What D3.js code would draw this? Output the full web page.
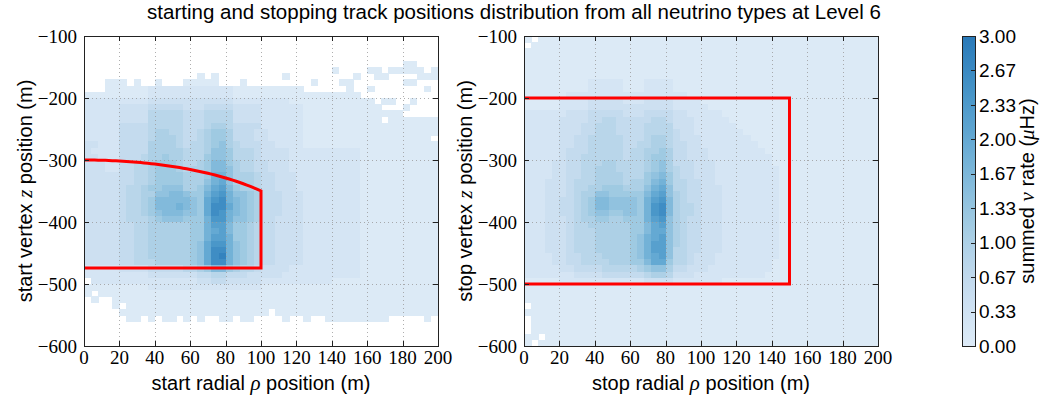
<!DOCTYPE html>
<html>
<head>
<meta charset="utf-8">
<script src="https://cdn.jsdelivr.net/npm/d3@7"></script>
<style>
  body { margin: 0; background: #fff; }
</style>
</head>
<body>
<svg id="chart" width="1046" height="400"></svg>
<script>
// ---- chart data ---------------------------------------------------------
const titleText = "starting and stopping track positions distribution from all neutrino types at Level 6";
const rhoTicks = [0, 20, 40, 60, 80, 100, 120, 140, 160, 180, 200];
const zTicks = [-100, -200, -300, -400, -500, -600];
const rateTicks = [0, 1/3, 2/3, 1, 4/3, 5/3, 2, 7/3, 8/3, 3];
const rateTickLabels = ["0.00", "0.33", "0.67", "1.00", "1.33", "1.67", "2.00", "2.33", "2.67", "3.00"];

// histogram binning: 50 bins of 4 m in rho, 50 bins of 10 m in z (top row = -100 m)
const rhoBinWidth = 4;
const zBinHeight = 10;
const zFirstEdge = -100;

// per-cell summed rate, coded: '.' = empty bin, '0' = tiny rate, each further symbol adds 0.2 uHz
const levelCodes = "0123456789ABCDEF";
const levelStep = 0.2;
const tinyRate = 0.02;

const startRates = [
  ".......... .......... .......... .......... ..........",
  ".......... .......... .......... .......... ..........",
  ".......... .......... .......... .......... ..........",
  ".......... .......... .......... .......... ..........",
  ".......... .......... .......... .......... .....00...",
  ".......... .......... .......... .....0.... 00.00000.0",
  ".......... ......0.0. ........0. ........0. .00....000",
  "...000.0.. 0...00000. ..0....... ..0...00.. .....00...",
  "...0000001 1111111111 1000000000 0......0.. 0.......0.",
  "0000000001 1111111111 1000000000 000000000. ..........",
  "1111111112 2222222222 2111111110 0000000000 0.00..0...",
  "11111 2222 33333 222 3333 2222 111111 00000000000 ... 0 ....",
  "11111 2222 44444 333 4444 2222 111111 00000000000000 .....",
  "11111 2222 44444 333 4444 2222 111111 00000000000 . 0000000",
  "11111 3333 44444 333 4 55 4 3333 111111 00000000 00000000000",
  "11111 3333 45544 334 5 66 5 3332 211111 00000000 00000000000",
  "11111 3333 45554 334 5 66 5 3332 211111 00000000 0000000000.",
  "22111 3333 55554 344 5 67 5 4333 221111 00000000 00000000000",
  "21111 3333 55555 444 5 77 6 4443 222211 11111111 00000000000",
  "22111 3334 55655 444 6 77 6 4443 222211 11111111 00000000000",
  "22211 3344 56665 445 6 88 6 5443 322211 11111111 00000000000",
  "22211 3344 56665 455 6 88 7 5443 322211 11111111 00000000000",
  "22222 3344 56666 555 6 99 7 5554 332221 11111111 00000000000",
  "22222 3344 56666 555 7 9A 7 5554 332221 11111111 00000000000",
  "22222 3445 66777 556 8 AB 8 6554 332221 11111111 00000000000",
  "22222 3445 57788 766 9 BC 9 7765 333222 11111111 00000000000",
  "22222 3445 68888 876 A CD 9 8765 333222 11111111 00000000000",
  "22222 3445 68889 876 A DD A 8765 333222 11111111 00000000000",
  "22222 3445 67888 776 A DC 9 8765 333222 11111111 00000000000",
  "22222 3444 56777 666 9 CC 9 7765 332222 11111111 00000000000",
  "22222 3344 55555 566 9 BB 8 6654 332222 11111111 00000000000",
  "22222 3344 55555 566 9 AB 8 6654 332222 11111111 00000000000",
  "22222 3344 55555 566 9 BB 9 6654 332222 11111111 00000000000",
  "22222 3344 55555 567 A CC 9 7654 332222 11111111 00000000000",
  "22222 3344 55555 567 A DD 9 7654 332222 11111111 00000000000",
  "22222 3344 55555 567 A DE 9 7654 332222 11111111 00000000000",
  "22222 3344 45555 567 A DD 9 7654 332222 11111111 00000000000",
  "11111 2222 33333 445 6 88 6 5443 222211 11111111 00000000000",
  "11111 1111 22222 223 3 44 3 3322 222111 11111111 00000000000",
  ".1111 1111 11111 112 2 33 2 2222 111111 11110000 00000000000",
  "00000 0000 11111 111 1 11 1 1111 000000 00000000 00000000000",
  "0.000 0000 00000 000 0 00 0 0000 000000 00000000 00000000000",
  ".0..0 0000 00000 000 0 00 0 0000 000000 00000000 00000000000",
  "....0 .000 00000 000 0 00 0 0000 000000 00000000 00000000000",
  "..... 0000 00000 000 0 00 0 0000 0.0000 00000000 00000000000",
  "......00.0 .00.0.0..0 0.00....0. .0..000000 000.....0.",
  ".......... .......... .......... .......... ..........",
  ".......... .......... .......... .......... ..........",
  ".......... .......... .......... .......... ..........",
  ".......... .......... .......... .......... .........."
];

const stopRates = [
  "0.000 0000 00000 000 0 00 0 0000 000000 00000000 00000000000",
  ".0000 0000 00000 000 0 00 0 0000 000000 00000000 00000000000",
  "00000 0000 00000 000 0 00 0 0000 000000 00000000 00000000000",
  "00000 0000 00000 000 0 00 0 0000 000000 00000000 00000000000",
  "00000 0000 00000 000 0 00 0 0000 000000 00000000 00000000000",
  "00000 0000 00000 000 0 00 0 0000 000000 00000000 00000000000",
  "00000 0000 00000 000 0 00 0 0000 000000 00000000 00000000000",
  "00000 0000 11111 000 1 11 1 0000 000000 00000000 00000000000",
  "00000 0000 11111 000 1 11 1 0000 000000 00000000 00000000000",
  "00000 0111 11111 111 1 11 1 1100 000000 00000000 00000000000",
  "00000 1111 22222 111 2 22 2 1111 000000 00000000 00000000000",
  "00000 1111 22222 222 2 22 2 1111 100000 00000000 00000000000",
  "11111 1222 33333 222 3 33 3 2211 111000 00000000 00000000000",
  "11111 2222 33443 333 3 44 3 2221 111100 00000000 00000000000",
  "11111 2223 34443 333 4 44 4 2221 111110 00000000 00000000000",
  "11111 2223 34443 333 4 44 4 3221 111111 00000000 00000000000",
  "11111 2233 44444 333 4 55 4 3222 111111 10000000 00000000000",
  "11111 2233 44444 334 4 55 4 3322 111111 11000000 00000000000",
  "11111 2333 44444 344 5 56 5 3322 211111 11100000 00000000000",
  "11111 2334 44444 344 5 66 5 3322 211111 11110000 00000000000",
  "11112 2334 44554 444 5 67 5 3332 221111 11110000 00000000000",
  "11112 2334 45554 444 5 67 5 4332 221111 11111000 00000000000",
  "11112 2334 45555 444 6 78 6 4332 221111 11111000 00000000000",
  "11122 2344 45555 455 6 89 6 4433 221111 11111000 00000000000",
  "11122 2344 55666 555 7 9A 7 4433 222111 11111000 00000000000",
  "11122 2345 57766 666 8 AB 7 5433 222111 11111000 00000000000",
  "11122 3345 68877 776 9 BC 8 5433 222111 11111000 00000000000",
  "11122 3345 68877 776 9 CD 8 5443 222111 11111000 00000000000",
  "11122 3345 67766 776 9 CD 8 5443 222111 11111000 00000000000",
  "11122 2345 56655 666 9 BC 7 5433 222111 11111000 00000000000",
  "11122 2344 55555 566 8 AB 7 5433 222111 11111000 00000000000",
  "11122 2344 45555 566 8 AA 7 5433 222111 11111000 00000000000",
  "11122 2344 45555 567 9 AB 7 5433 222111 11111000 00000000000",
  "11122 2344 45555 567 9 BB 7 5433 222111 11111000 00000000000",
  "11122 2344 45555 567 9 BB 7 4433 222111 11111000 00000000000",
  "11112 2334 44555 567 9 AB 7 4432 221111 11111000 00000000000",
  "11112 2334 44455 566 8 AA 6 4432 221111 11110000 00000000000",
  "11111 2233 33444 445 6 77 5 3322 211111 11110000 00000000000",
  "11111 1122 22333 333 4 55 4 2221 111111 11100000 00000000000",
  "00000 1111 11111 111 2 22 2 1111 111000 00000000 00000000000",
  "00000 0000 00000 000 0 00 0 0000 000000 00000000 00000000000",
  "00000 0000 00000 000 0 00 0 0000 000000 00000000 00000000000",
  "00000 0000 00000 000 0 00 0 0000 000000 00000000 00000000000",
  ".0000 0000 00000 000 0 00 0 0000 000000 00000000 00000000000",
  "00000 0000 00000 000 0 00 0 0000 000000 00000000 00000000000",
  ".0000 0000 00000 000 0 00 0 0000 000000 00000000 00000000000",
  ".0000 0000 00000 000 0 00 0 0000 000000 00000000 00000000000",
  ".0000 0000 00000 000 0 00 0 0000 000000 00000000 00000000000",
  "00.00 0000 00000 000 0 00 0 0000 000000 00000000 00000000000",
  "0.000 0000 00000 000 0 00 0 0000 000000 00000000 00000000000"
];

// selection outlines (metres)
const startCapCentreZ = -425, startCapRadius = 125, startMaxRho = 100, startBottomZ = -474;
const stopMaxRho = 150, stopTopZ = -200, stopBottomZ = -500;

// ---- layout -------------------------------------------------------------
const sans = "'Liberation Sans', Arial, Helvetica, sans-serif";
const serif = "'Liberation Serif', 'Times New Roman', serif";
const plotTop = 36, plotW = 354, plotH = 310;
const tickFont = 19, labelFont = 20, titleFont = 20.5;
const svg = d3.select("#chart");

const rateToT = d3.scaleLinear().domain([0, 3]).range([0.13, 0.72]).clamp(true);
const color = v => d3.interpolateBlues(rateToT(v));

function decode(rows) {
  const out = [];
  rows.forEach((row, r) => {
    const s = row.replace(/ /g, "");
    Array.from(s).forEach((ch, c) => {
      if (ch === ".") return;
      const lv = levelCodes.indexOf(ch);
      out.push({ r, c, v: lv === 0 ? tinyRate : lv * levelStep });
    });
  });
  return out;
}

function fmtNeg(v) { return v < 0 ? "\u2212" + Math.abs(v) : String(v); }

function drawPanel(left, rows, word, outline) {
  const x = d3.scaleLinear().domain([0, 200]).range([left, left + plotW]);
  const y = d3.scaleLinear().domain([-100, -600]).range([plotTop, plotTop + plotH]);
  const g = svg.append("g");
  const clipId = "clip-" + word;
  svg.append("clipPath").attr("id", clipId)
    .append("rect").attr("x", left).attr("y", plotTop).attr("width", plotW).attr("height", plotH);

  const cw = x(rhoBinWidth) - x(0);
  const ch = y(zFirstEdge - zBinHeight) - y(zFirstEdge);
  g.append("g").attr("clip-path", `url(#${clipId})`).attr("shape-rendering", "crispEdges")
    .selectAll("rect").data(decode(rows)).join("rect")
    .attr("x", d => x(d.c * rhoBinWidth))
    .attr("y", d => y(zFirstEdge - d.r * zBinHeight))
    .attr("width", cw + 0.5)
    .attr("height", ch + 0.5)
    .attr("fill", d => color(d.v));

  // dotted grid
  const grid = g.append("g").attr("stroke", "#9a9a9a").attr("stroke-width", 1)
    .attr("stroke-dasharray", "1,3").attr("opacity", 0.8);
  rhoTicks.slice(1, -1).forEach(t => grid.append("line")
    .attr("x1", Math.round(x(t)) + 0.5).attr("x2", Math.round(x(t)) + 0.5)
    .attr("y1", plotTop).attr("y2", plotTop + plotH));
  zTicks.slice(1, -1).forEach(t => grid.append("line")
    .attr("y1", Math.round(y(t)) + 0.5).attr("y2", Math.round(y(t)) + 0.5)
    .attr("x1", left).attr("x2", left + plotW));

  // selection outline
  g.append("path").attr("clip-path", `url(#${clipId})`)
    .attr("d", outline(x, y)).attr("fill", "none")
    .attr("stroke", "#ff0000").attr("stroke-width", 3).attr("stroke-linejoin", "miter");

  // frame and inward ticks on all sides
  g.append("rect").attr("x", left + 0.5).attr("y", plotTop + 0.5)
    .attr("width", plotW).attr("height", plotH)
    .attr("fill", "none").attr("stroke", "#222").attr("stroke-width", 1);
  const tk = g.append("g").attr("stroke", "#222").attr("stroke-width", 1);
  rhoTicks.forEach(t => {
    const px = Math.round(x(t)) + 0.5;
    tk.append("line").attr("x1", px).attr("x2", px).attr("y1", plotTop + plotH).attr("y2", plotTop + plotH - 5);
    tk.append("line").attr("x1", px).attr("x2", px).attr("y1", plotTop).attr("y2", plotTop + 5);
  });
  zTicks.forEach(t => {
    const py = Math.round(y(t)) + 0.5;
    tk.append("line").attr("y1", py).attr("y2", py).attr("x1", left).attr("x2", left + 5);
    tk.append("line").attr("y1", py).attr("y2", py).attr("x1", left + plotW).attr("x2", left + plotW - 5);
  });

  // tick labels
  g.selectAll("text.xt").data(rhoTicks).join("text").attr("class", "xt")
    .attr("x", d => x(d)).attr("y", plotTop + plotH + 18)
    .attr("text-anchor", "middle").attr("font-family", serif).attr("font-size", tickFont)
    .text(d => d);
  g.selectAll("text.yt").data(zTicks).join("text").attr("class", "yt")
    .attr("x", left - 7).attr("y", d => y(d)).attr("dy", "0.35em")
    .attr("text-anchor", "end").attr("font-family", serif).attr("font-size", tickFont)
    .text(fmtNeg);

  // axis titles
  const xl = g.append("text").attr("x", left + plotW / 2).attr("y", 390)
    .attr("text-anchor", "middle").attr("font-family", sans).attr("font-size", labelFont);
  xl.append("tspan").text(word + " radial ");
  xl.append("tspan").attr("font-family", serif).attr("font-style", "italic").attr("font-size", labelFont + 1).text("\u03c1");
  xl.append("tspan").text(" position (m)");

  const yl = g.append("text").attr("transform", `translate(${left - 52},${plotTop + plotH / 2}) rotate(-90)`)
    .attr("text-anchor", "middle").attr("font-family", sans).attr("font-size", labelFont);
  yl.append("tspan").text(word + " vertex ");
  yl.append("tspan").attr("font-family", serif).attr("font-style", "italic").attr("font-size", labelFont + 1).text("z");
  yl.append("tspan").text(" position (m)");
}

// start panel: spherical cap on top, flat bottom, vertical side at rho = 100 m
drawPanel(84, startRates, "start", (x, y) => {
  const capPts = d3.range(0, startMaxRho + 0.01, 2).map(r =>
    [x(r), y(startCapCentreZ + Math.sqrt(startCapRadius * startCapRadius - r * r))]);
  return d3.line()(capPts.concat([[x(startMaxRho), y(startBottomZ)], [x(0), y(startBottomZ)]]));
});

// stop panel: box
drawPanel(524, stopRates, "stop", (x, y) =>
  d3.line()([[x(0), y(stopTopZ)], [x(stopMaxRho), y(stopTopZ)], [x(stopMaxRho), y(stopBottomZ)], [x(0), y(stopBottomZ)]]));

// ---- colour bar ---------------------------------------------------------
const cbX = 962, cbW = 13;
const cbY = d3.scaleLinear().domain([0, 3]).range([plotTop + plotH, plotTop]);
const grad = svg.append("defs").append("linearGradient").attr("id", "rateGrad")
  .attr("x1", 0).attr("y1", 1).attr("x2", 0).attr("y2", 0);
d3.range(0, 1.0001, 0.05).forEach(f => grad.append("stop")
  .attr("offset", f).attr("stop-color", color(f * 3)));
svg.append("rect").attr("x", cbX).attr("y", plotTop).attr("width", cbW).attr("height", plotH)
  .attr("fill", "url(#rateGrad)");
svg.append("rect").attr("x", cbX + 0.5).attr("y", plotTop + 0.5).attr("width", cbW).attr("height", plotH)
  .attr("fill", "none").attr("stroke", "#222");
rateTicks.forEach((t, i) => {
  const py = Math.round(cbY(t)) + 0.5;
  svg.append("line").attr("x1", cbX + cbW).attr("x2", cbX + cbW - 4).attr("y1", py).attr("y2", py)
    .attr("stroke", "#222");
  svg.append("text").attr("x", cbX + cbW + 4).attr("y", cbY(t)).attr("dy", "0.35em")
    .attr("font-family", sans).attr("font-size", tickFont).text(rateTickLabels[i]);
});
const cl = svg.append("text").attr("transform", `translate(1034,${plotTop + plotH / 2}) rotate(-90)`)
  .attr("text-anchor", "middle").attr("font-family", sans).attr("font-size", labelFont);
cl.append("tspan").text("summed ");
cl.append("tspan").attr("font-family", serif).attr("font-style", "italic").attr("font-size", labelFont + 1).text("\u03bd");
cl.append("tspan").text(" rate (");
cl.append("tspan").attr("font-family", serif).attr("font-style", "italic").attr("font-size", labelFont + 1).text("\u03bc");
cl.append("tspan").text("Hz)");

// ---- title --------------------------------------------------------------
svg.append("text").attr("x", 514).attr("y", 19).attr("text-anchor", "middle")
  .attr("font-family", sans).attr("font-size", titleFont).text(titleText);
</script>
</body>
</html>
